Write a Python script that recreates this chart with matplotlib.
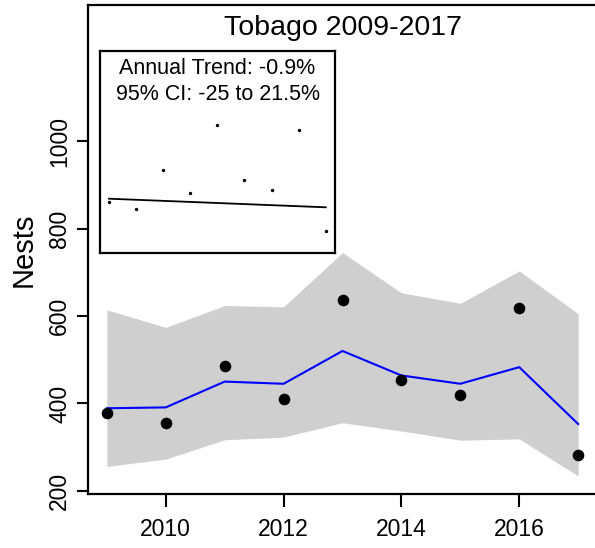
import matplotlib
matplotlib.use("Agg")
import matplotlib.pyplot as plt

plt.rcParams['font.family'] = ['Liberation Sans', 'DejaVu Sans']

years = [2009, 2010, 2011, 2012, 2013, 2014, 2015, 2016, 2017]
nests = [378, 355, 486, 410, 637, 454, 419, 619, 282]
fitted = [389, 391, 450, 445, 520, 464, 445, 483, 353]
upper = [614, 574, 624, 621, 745, 653, 629, 703, 605]
lower = [256, 273, 317, 323, 356, 337, 316, 319, 234]
trend_years = [2009, 2017]
trend_vals = [389.5, 360.6]
xticks = [2010, 2012, 2014, 2016]
yticks = [200, 400, 600, 800, 1000]
title = "Tobago 2009-2017"
ylabel = "Nests"
inset_lines = ["Annual Trend: -0.9%", "95% CI: -25 to 21.5%"]

W, H = 595, 548
fig = plt.figure(figsize=(W / 100, H / 100), dpi=100)

# main axes
ax = fig.add_axes([88 / W, (H - 494) / H, (597 - 88) / W, (494 - 5) / H])
ax.fill_between(years, lower, upper, color='#cfcfcf', linewidth=0, zorder=1)
ax.plot(years, fitted, color='#0000ff', lw=1.5, zorder=2)
ax.scatter(years, nests, s=70, color='black', zorder=3, linewidths=0)
ax.set_xlim(2008.68, 2017.32)
ax.set_ylim(193, 1311)
ax.set_xticks(xticks)
ax.set_yticks(yticks)
ax.set_yticklabels([str(v) for v in yticks], rotation=90, va='center')
ax.tick_params(axis='x', length=9, width=1.5, labelsize=16.5, pad=8)
ax.tick_params(axis='y', length=8, width=1.5, labelsize=16.5, pad=4)
for s in ax.spines.values():
    s.set_linewidth(1.6)
ax.set_ylabel(ylabel, fontsize=21, labelpad=8)
ax.text(0.5, 0.9387, title, transform=ax.transAxes, ha='center',
        va='baseline', fontsize=20.5)

# inset
axi = fig.add_axes([100 / W, (H - 253) / H, (335 - 100) / W, (253 - 51) / H])
axi.scatter(years, nests, s=6, color='black', linewidths=0, zorder=3)
axi.plot(trend_years, trend_vals, color='black', lw=1.3, zorder=2)
axi.set_xlim(2008.668, 2017.34)
axi.set_ylim(207, 886)
axi.set_xticks([])
axi.set_yticks([])
for s in axi.spines.values():
    s.set_linewidth(1.6)
axi.text(0.5, 0.886, inset_lines[0], transform=axi.transAxes, ha='center',
         va='baseline', fontsize=15.5)
axi.text(0.5, 0.757, inset_lines[1], transform=axi.transAxes, ha='center',
         va='baseline', fontsize=15.5)

fig.savefig("out.png", dpi=100)
